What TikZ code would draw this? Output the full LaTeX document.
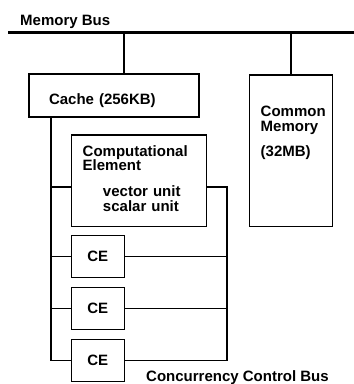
\documentclass[tikz,border=0pt]{standalone}
\usepackage{fontspec}
\setmainfont{Liberation Sans}
\begin{document}
\begin{tikzpicture}[x=1pt,y=-1pt,
  txt/.style={font=\bfseries\fontsize{15}{14.5}\selectfont},
  unitbox/.style={draw, line width=1.1pt, outer sep=0pt, inner ysep=0pt, align=left, txt},
  cebox/.style={draw, line width=1.1pt, outer sep=0pt, minimum width=53pt, minimum height=42pt, inner sep=0pt, txt},
  lbl/.style={inner sep=0pt, txt},
  wire/.style={line width=1.1pt},
  bus/.style={line width=3pt}]
\path[use as bounding box] (0,0) rectangle (354,384);

% memory bus
\node[lbl, anchor=base west] (mbuslbl) at (20,25) {Memory Bus};
\coordinate (busL) at (8,32);
\coordinate (busR) at (354,32);
\draw[bus] (busL) -- (busR);

% cache and common memory
\node[unitbox, anchor=north west, inner xsep=20pt, text width=130pt,
      text height=30pt, text depth=13pt] (cache) at (29,74) {Cache (256KB)};
\node[unitbox, anchor=north west, inner xsep=11.4pt, text width=60.6pt,
      text height=41.7pt, text depth=110pt] (mem) at (249.3,75)
      {Common\\[0.5pt]Memory\\[10.6pt](32MB)};
\coordinate (cup) at (124,0);
\draw[wire] (cup |- busL) -- (cup |- cache.north);
\draw[wire] (mem.north |- busL) -- (mem.north);

% computational elements
\node[unitbox, anchor=north west, inner xsep=11pt, text width=113pt,
      text height=21pt, text depth=70.7pt] (ce0) at (71.7,135)
      {Computational\\[-0.5pt]Element\\[12.2pt]\hspace*{20.3pt}vector unit\\[0.5pt]\hspace*{20.3pt}scalar unit};
\node[cebox] (ce1) at (97.7,256.7) {CE};
\node[cebox] (ce2) at (97.7,308.2) {CE};
\node[cebox] (ce3) at (97.7,360.3) {CE};

% concurrency control bus
\coordinate (lbus) at (51,0);
\coordinate (rbus) at (227,0);
\coordinate (mlink) at (0,187);
\draw[wire] (cache.south -| lbus) -- (lbus |- ce3.west) -- (ce3.west);
\draw[wire] (ce3.east) -- (rbus |- ce3.east) -- (rbus |- mlink) -- (ce0.east |- mlink);
\draw[wire] (lbus |- mlink) -- (ce0.west |- mlink);
\draw[wire] (lbus |- ce1.west) -- (ce1.west);
\draw[wire] (ce1.east) -- (rbus |- ce1.east);
\draw[wire] (lbus |- ce2.west) -- (ce2.west);
\draw[wire] (ce2.east) -- (rbus |- ce2.east);
\node[lbl, anchor=base west] (cbuslbl) at (146,381) {Concurrency Control Bus};
\end{tikzpicture}
\end{document}
